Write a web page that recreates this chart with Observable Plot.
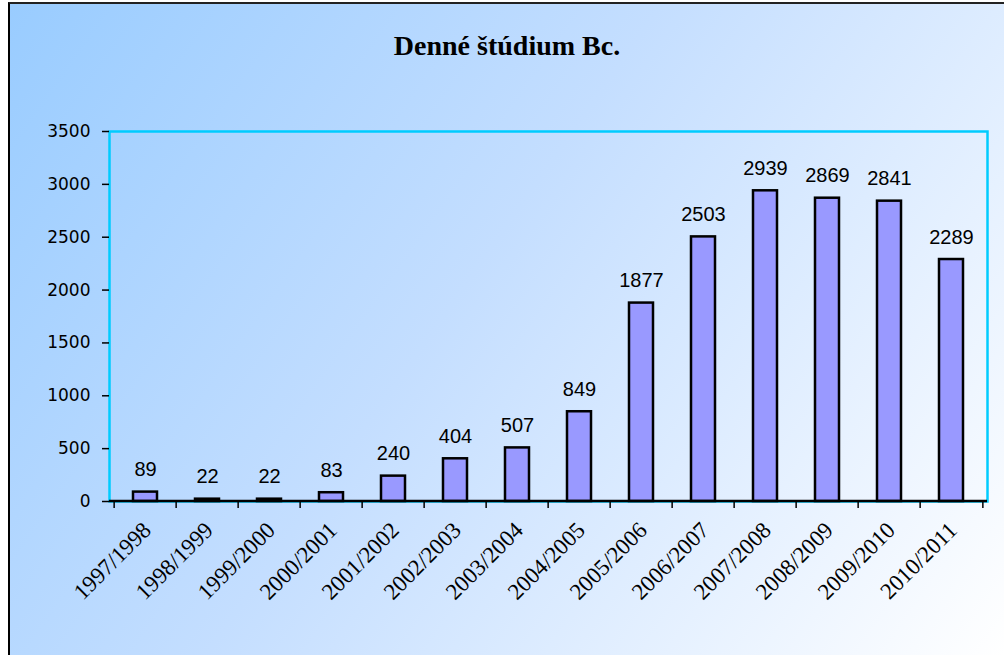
<!DOCTYPE html>
<html>
<head>
<meta charset="utf-8">
<script src="https://cdn.jsdelivr.net/npm/d3@7"></script>
<script src="https://cdn.jsdelivr.net/npm/@observablehq/plot@0.6"></script>
<style>
  html, body { margin: 0; padding: 0; background: #ffffff; }
  #bg {
    position: absolute; left: 8px; top: 2px; width: 994px; height: 651px;
    border-left: 2px solid #000; border-top: 2px solid #222;
    background: linear-gradient(125deg, #99CCFF 0%, #C4DEFF 45%, #FFFFFF 100%);
  }
  #wrap { position: absolute; left: 0; top: 0; width: 1004px; }
  #title {
    height: 48px; padding-top: 32px; padding-left: 10px; box-sizing: content-box;
    text-align: center; font-family: "Liberation Serif", serif; font-weight: bold;
    font-size: 28px; line-height: 28px; color: #000;
  }
  svg { display: block; }
  svg text.xlab { font-family: "Liberation Serif", "Times New Roman", serif !important; font-size: 23px !important; }
  svg text.blab { font-family: "Liberation Sans", Arial, sans-serif !important; font-size: 20px !important; }
</style>
</head>
<body>
<div id="bg"></div>
<div id="wrap">
  <div id="title">Denné štúdium Bc.</div>
  <div id="chart"></div>
</div>
<script>
const years = ["1997/1998","1998/1999","1999/2000","2000/2001","2001/2002","2002/2003","2003/2004","2004/2005","2005/2006","2006/2007","2007/2008","2008/2009","2009/2010","2010/2011"];
const students = [89, 22, 22, 83, 240, 404, 507, 849, 1877, 2503, 2939, 2869, 2841, 2289];
const yTicks = [0, 500, 1000, 1500, 2000, 2500, 3000, 3500];

const data = years.map((y, i) => ({year: y, value: students[i]}));

const W = 1004, H = 575, mL = 109, mR = 17, mT = 51, mB = 154;
const step = (W - mL - mR) / years.length;

const chart = Plot.plot({
  width: W, height: H,
  marginLeft: mL, marginRight: mR, marginTop: mT, marginBottom: mB,
  style: {background: "transparent", fontFamily: "DejaVu Sans", fontSize: "17px", color: "#000", overflow: "visible"},
  x: {type: "band", domain: years, padding: 0, label: null},
  y: {domain: [0, 3500], label: null},
  marks: [
    Plot.frame({stroke: "#00CCFF", strokeWidth: 2.5}),
    Plot.barY(data, {x: "year", y: "value", fill: "#9999FF", stroke: "#000", strokeWidth: 2.5, insetLeft: 19, insetRight: 19}),
    Plot.ruleY([0], {stroke: "#000", strokeWidth: 2.5, dy: -0.5}),
    Plot.axisY(yTicks, {label: null, tickSize: 7, tickPadding: 12, tickFormat: d => String(d), stroke: "#000", strokeWidth: 1.5, fill: "#000", fontSize: 17, fontFamily: "DejaVu Sans"}),
    Plot.axisX(years, {label: null, tickSize: 7, dx: -step / 2, tickFormat: () => "", stroke: "#000", strokeWidth: 1.5}),
    Plot.axisX([years[years.length - 1]], {label: null, tickSize: 7, dx: step / 2, tickFormat: () => "", stroke: "#000", strokeWidth: 1.5}),
    Plot.text(data, {x: "year", y: "value", text: d => String(d.value), dy: -16, lineAnchor: "bottom", fontFamily: "Liberation Sans", fontSize: 20, fill: "#000"}),
    Plot.text(years, {x: d => d, frameAnchor: "bottom", text: d => d, rotate: -45, textAnchor: "end", lineAnchor: "bottom", dx: 7, dy: 30, fontFamily: "Liberation Serif", fontSize: 23, fill: "#000"})
  ]
});
document.getElementById("chart").appendChild(chart);
d3.select(chart).selectAll("text")
  .filter(function() { return years.includes(this.textContent); })
  .classed("xlab", true)
  .style("font-family", "'Liberation Serif', serif");
d3.select(chart).selectAll("text")
  .filter(function() { return students.map(String).includes(this.textContent) && !yTicks.map(String).includes(this.textContent); })
  .classed("blab", true);
</script>
</body>
</html>
